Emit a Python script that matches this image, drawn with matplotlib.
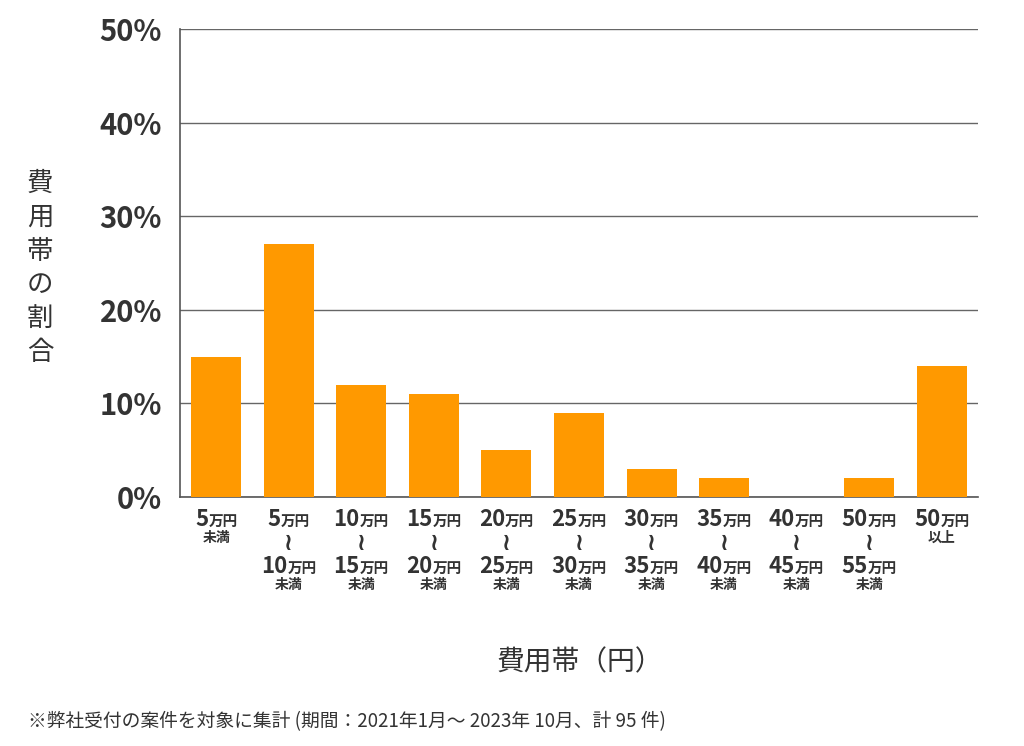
import matplotlib
matplotlib.use('Agg')
import matplotlib.pyplot as plt
from matplotlib.offsetbox import TextArea, HPacker, VPacker, AnnotationBbox

# cost bands in 10k yen (None = open end)
lower = [None, 5, 10, 15, 20, 25, 30, 35, 40, 50, 50]
upper = [5, 10, 15, 20, 25, 30, 35, 40, 45, 55, None]
shares = [15, 27, 12, 11, 5, 9, 3, 2, 0, 2, 14]
yticks = [0, 10, 20, 30, 40, 50]

plt.rcParams['font.family'] = ['Noto Sans CJK JP', 'DejaVu Sans']
TEXT = '#333333'

fig = plt.figure(figsize=(10.24, 7.46), dpi=100)
ax = fig.add_axes([180 / 1024, 1 - 497 / 746, 798 / 1024, 468 / 746])

x = list(range(len(shares)))
ax.bar(x, shares, width=0.69, color='#ff9900', zorder=3)

ax.set_xlim(-0.5, len(shares) - 0.5)
ax.set_ylim(0, 50)
ax.set_yticks(yticks)
ax.set_yticklabels([f'{v}%' for v in yticks], fontsize=21, fontweight='bold', color=TEXT)
ax.yaxis.grid(True, color='#666666', lw=1, zorder=1)
ax.tick_params(axis='y', length=0, pad=13)
ax.set_xticks([])
for s in ('top', 'right'):
    ax.spines[s].set_visible(False)
for s in ('left', 'bottom'):
    ax.spines[s].set_color('#555555')
    ax.spines[s].set_linewidth(1.2)

num_props = dict(fontsize=16, fontweight='bold', color=TEXT)
unit_props = dict(fontsize=10.5, fontweight='bold', color=TEXT)
small_props = dict(fontsize=10, fontweight='bold', color=TEXT)


def amount(n):
    return HPacker(children=[TextArea(str(n), textprops=num_props),
                             TextArea('万円', textprops=unit_props)],
                   align='baseline', pad=0, sep=0)


for i, (lo, hi) in enumerate(zip(lower, upper)):
    if lo is None:
        rows = [amount(hi), TextArea('未満', textprops=small_props)]
    elif hi is None:
        rows = [amount(lo), TextArea('以上', textprops=small_props)]
    else:
        rows = [amount(lo), TextArea('≀', textprops=dict(fontsize=17, fontweight='bold', color=TEXT)),
                amount(hi), TextArea('未満', textprops=small_props)]
    box = VPacker(children=rows, align='center', pad=0, sep=0)
    ab = AnnotationBbox(box, (i, 0), xycoords=('data', 'axes fraction'),
                        xybox=(0, -8), boxcoords='offset points',
                        box_alignment=(0.5, 1), frameon=False, pad=0)
    ax.add_artist(ab)

fig.text(40 / 1024, 1 - 268 / 746, '費\n用\n帯\nの\n割\n合', fontsize=19,
         color=TEXT, ha='center', va='center', linespacing=1.32)
fig.text(580 / 1024, 1 - 662 / 746, '費用帯（円）', fontsize=20,
         color=TEXT, ha='center', va='center')
fig.text(28 / 1024, 1 - 722 / 746,
         '※弊社受付の案件を対象に集計 (期間：2021年1月～ 2023年 10月、計 95 件)',
         fontsize=13.5, color=TEXT, ha='left', va='center')

fig.savefig('out.png', dpi=100)
